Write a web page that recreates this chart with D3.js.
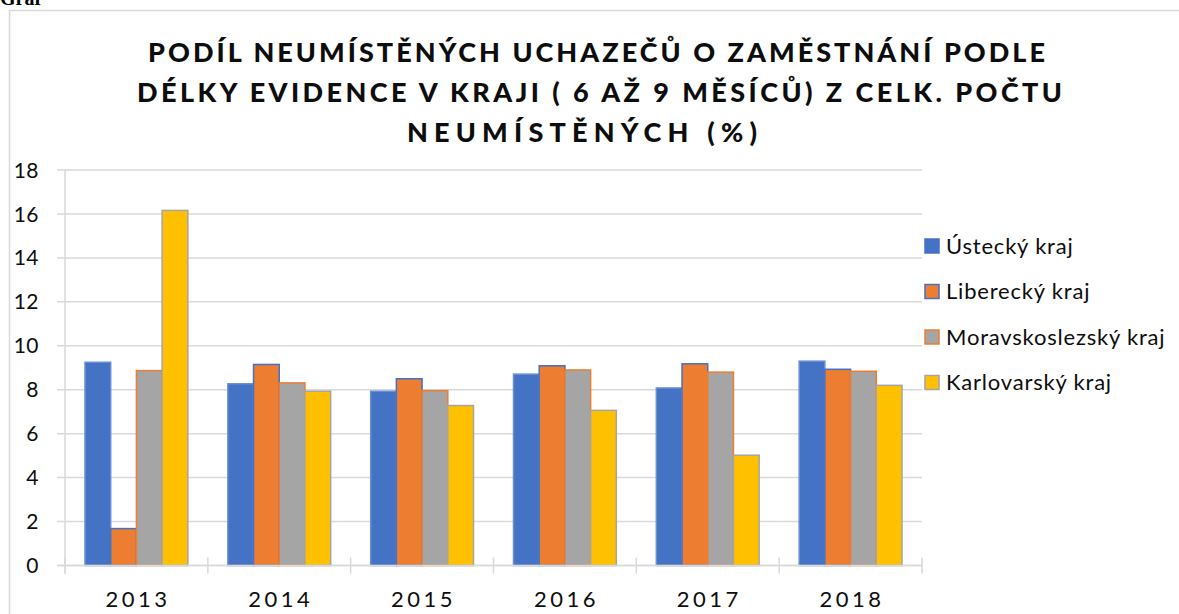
<!DOCTYPE html>
<html>
<head>
<meta charset="utf-8">
<script src="https://cdn.jsdelivr.net/npm/d3@7"></script>
<style>
  html, body { margin: 0; padding: 0; background: #fff; }
  svg { display: block; }
</style>
</head>
<body>
<svg id="chart" width="1179" height="614"></svg>
<script>
// data
const years = ["2013", "2014", "2015", "2016", "2017", "2018"];
const seriesNames = ["Ústecký kraj", "Liberecký kraj", "Moravskoslezský kraj", "Karlovarský kraj"];
const usteckyValues = [9.25, 8.27, 7.93, 8.71, 8.08, 9.3];
const libereckyValues = [1.68, 9.15, 8.5, 9.09, 9.18, 8.93];
const moravskoslezskyValues = [8.87, 8.31, 7.96, 8.9, 8.8, 8.84];
const karlovarskyValues = [16.16, 7.93, 7.28, 7.06, 5.02, 8.2];
const yTicks = [0, 2, 4, 6, 8, 10, 12, 14, 16, 18];
const titleLines = [
    "PODÍL NEUMÍSTĚNÝCH UCHAZEČŮ O ZAMĚSTNÁNÍ PODLE",
    "DÉLKY EVIDENCE V KRAJI ( 6 AŽ 9 MĚSÍCŮ) Z CELK. POČTU",
    "NEUMÍSTĚNÝCH (%)"
];

const allValues = [usteckyValues, libereckyValues, moravskoslezskyValues, karlovarskyValues];
const fills = ["#4472c4", "#ed7d31", "#a5a5a5", "#ffc000"];
const strokes = ["#6a8fd4", "#4472c4", "#ed7d31", "#a5a5a5"];

const svg = d3.select("#chart");
const font = "Lato, 'Open Sans', sans-serif";

// frame + heading
svg.append("path")
    .attr("d", "M9.5,614 L9.5,10.5 L1179,10.5")
    .style("fill", "none")
    .style("stroke", "#d9d9d9")
    .style("stroke-width", 1.5);

svg.append("text")
    .attr("x", 0).attr("y", 5)
    .style("font-family", "'Liberation Serif', serif")
    .style("font-weight", "bold")
    .style("font-size", "20px")
    .text("Graf");

const titleX = [148, 137, 407];
const titleW = [897, 925, 350];
titleLines.forEach((t, i) => {
    svg.append("text")
        .attr("x", titleX[i])
        .attr("y", 62 + i * 40)
        .attr("textLength", titleW[i])
        .attr("lengthAdjust", "spacing")
        .style("font-family", font)
        .style("font-weight", "900")
        .style("font-size", "27px")
        .style("fill", "#0d0d0d")
        .text(t);
});

const plotLeft = 65, plotRight = 922, plotBottom = 565.5, plotTop = 170;

const x = d3.scaleBand().domain(years).range([plotLeft, plotRight]).paddingInner(0.28).paddingOuter(0.14);
const xs = d3.scaleBand().domain(d3.range(seriesNames.length)).range([0, x.bandwidth()]);
const y = d3.scaleLinear().domain([0, 18]).range([plotBottom, plotTop]);

// gridlines
svg.append("g").selectAll("line")
    .data(yTicks)
    .join("line")
    .attr("x1", plotLeft - 8).attr("x2", plotRight)
    .attr("y1", d => y(d)).attr("y2", d => y(d))
    .style("stroke", "#d9d9d9")
    .style("stroke-width", 1.5);

// value axis line
svg.append("line")
    .attr("x1", plotLeft).attr("x2", plotLeft)
    .attr("y1", y(18)).attr("y2", plotBottom + 8)
    .style("stroke", "#d9d9d9")
    .style("stroke-width", 1.5);

// y labels
svg.append("g").selectAll("text")
    .data(yTicks)
    .join("text")
    .attr("x", 39)
    .attr("y", d => y(d))
    .attr("dy", "0.36em")
    .attr("text-anchor", "end")
    .style("font-family", font)
    .style("font-size", "21px")
    .style("letter-spacing", "0.5px")
    .style("fill", "#0d0d0d")
    .text(d => d);

// bars
years.forEach((yr, i) => {
    const g = svg.append("g").attr("transform", "translate(" + x(yr) + ",0)");
    g.selectAll("rect")
        .data(allValues.map((vals, s) => ({ s: s, v: vals[i] })))
        .join("rect")
        .attr("x", d => xs(d.s))
        .attr("width", xs.bandwidth())
        .attr("y", d => y(d.v))
        .attr("height", d => plotBottom - y(d.v))
        .style("fill", d => fills[d.s])
        .style("stroke", d => strokes[d.s])
        .style("stroke-width", 1.5);
});

// category ticks
const boundaries = years.map(yr => x(yr) - x.step() * x.paddingInner() / 2).concat([plotRight]);
boundaries[0] = plotLeft;
svg.append("g").selectAll("line")
    .data(boundaries)
    .join("line")
    .attr("x1", d => d).attr("x2", d => d)
    .attr("y1", plotBottom - 8).attr("y2", plotBottom + 8)
    .style("stroke", "#d9d9d9")
    .style("stroke-width", 1.5);

svg.append("line")
    .attr("x1", plotLeft - 8).attr("x2", plotRight)
    .attr("y1", plotBottom).attr("y2", plotBottom)
    .style("stroke", "#d9d9d9")
    .style("stroke-width", 1.5);

// x labels
svg.append("g").selectAll("text")
    .data(years)
    .join("text")
    .attr("x", d => x(d) + x.bandwidth() / 2 + 1.5)
    .attr("y", 607)
    .attr("text-anchor", "middle")
    .style("font-family", font)
    .style("font-size", "22px")
    .style("letter-spacing", "3.5px")
    .style("fill", "#0d0d0d")
    .text(d => d);

// legend
const legend = svg.append("g").selectAll("g")
    .data(seriesNames)
    .join("g")
    .attr("transform", (d, i) => "translate(925," + (246 + i * 45.5) + ")");
legend.append("rect")
    .attr("x", 0).attr("y", -7)
    .attr("width", 14).attr("height", 14)
    .style("fill", (d, i) => fills[i])
    .style("stroke", (d, i) => i === 0 ? fills[0] : strokes[i])
    .style("stroke-width", 1.5);
legend.append("text")
    .attr("x", 21)
    .attr("dy", "0.36em")
    .style("font-family", font)
    .style("font-size", "22px")
    .style("letter-spacing", "0.8px")
    .style("fill", "#0d0d0d")
    .text(d => d);
</script>
</body>
</html>
